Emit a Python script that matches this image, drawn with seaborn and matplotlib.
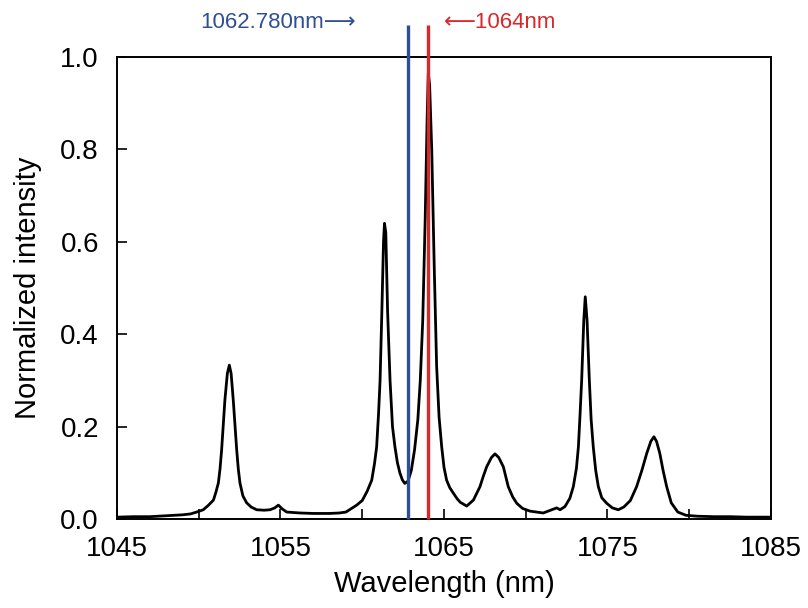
import numpy as np
import pandas as pd
import matplotlib
matplotlib.use("Agg")
import matplotlib.pyplot as plt
import seaborn as sns

# Spectrum (wavelength in nm, normalized intensity)
wavelength = [
    1045.0, 1046.0, 1047.0, 1048.0, 1049.0, 1049.5, 1049.87, 1050.28, 1050.6, 1050.9,
    1051.05, 1051.2, 1051.3, 1051.4, 1051.5, 1051.6, 1051.75, 1051.87, 1051.98, 1052.11,
    1052.22, 1052.32, 1052.42, 1052.52, 1052.7, 1052.93, 1053.2, 1053.54, 1054.0, 1054.36,
    1054.65, 1054.87, 1055.1, 1055.38, 1056.2, 1057.0, 1058.0, 1058.6,
    1059.0, 1059.66, 1060.0, 1060.3, 1060.58, 1060.75, 1060.88, 1061.0,
    1061.09, 1061.2, 1061.3, 1061.36, 1061.44, 1061.55, 1061.7, 1061.85,
    1062.0, 1062.15, 1062.3, 1062.45, 1062.6, 1062.8, 1063.0, 1063.2, 1063.4, 1063.55,
    1063.7, 1063.85, 1063.97, 1064.04, 1064.12, 1064.25, 1064.4, 1064.55,
    1064.7, 1064.86, 1065.0, 1065.16, 1065.35, 1065.57, 1065.8, 1066.0, 1066.39, 1066.8, 1067.2,
    1067.4, 1067.61, 1067.9, 1068.12, 1068.35, 1068.63, 1068.93, 1069.2, 1069.45, 1069.8, 1070.26,
    1071.07, 1071.89, 1072.1, 1072.4, 1072.7, 1072.91, 1073.1, 1073.22,
    1073.32, 1073.42, 1073.55, 1073.64, 1073.75, 1073.89, 1074.0, 1074.13, 1074.28, 1074.44,
    1074.65, 1074.95, 1075.3, 1075.66, 1076.0, 1076.4, 1076.78, 1077.1, 1077.4, 1077.65,
    1077.84, 1078.0, 1078.2, 1078.4, 1078.62, 1078.9, 1079.3, 1079.8,
    1080.5, 1081.5, 1082.5, 1083.5, 1084.3, 1085.0,
]
intensity = [
    0.004, 0.005, 0.005, 0.007, 0.009, 0.011, 0.015, 0.020, 0.030, 0.041,
    0.058, 0.078, 0.108, 0.150, 0.205, 0.258, 0.315, 0.333, 0.315, 0.258,
    0.200, 0.150, 0.108, 0.078, 0.050, 0.035, 0.026, 0.020, 0.019, 0.020,
    0.024, 0.030, 0.022, 0.015, 0.013, 0.012, 0.012, 0.013,
    0.015, 0.030, 0.040, 0.060, 0.084, 0.120, 0.156, 0.230,
    0.300, 0.450, 0.600, 0.640, 0.620, 0.450, 0.300, 0.200,
    0.156, 0.122, 0.100, 0.085, 0.077, 0.082, 0.105, 0.150, 0.215, 0.300,
    0.430, 0.650, 0.870, 0.965, 0.940, 0.800, 0.550, 0.330,
    0.220, 0.156, 0.112, 0.084, 0.068, 0.056, 0.044, 0.036, 0.028, 0.041, 0.070,
    0.092, 0.113, 0.133, 0.141, 0.133, 0.113, 0.070, 0.048, 0.034, 0.023, 0.017,
    0.013, 0.024, 0.020, 0.027, 0.045, 0.070, 0.110, 0.156,
    0.225, 0.300, 0.430, 0.481, 0.430, 0.300, 0.215, 0.156, 0.105, 0.070,
    0.046, 0.034, 0.024, 0.020, 0.026, 0.040, 0.070, 0.105, 0.142, 0.168,
    0.178, 0.168, 0.142, 0.105, 0.070, 0.035, 0.015, 0.008,
    0.006, 0.005, 0.005, 0.004, 0.004, 0.004,
]

# marked wavelengths
line_wl = [1062.780, 1064.0]
line_colors = ["#2f4f95", "#d8282a"]
line_labels = ["1062.780nm\u27f6", "\u27f51064nm"]

df = pd.DataFrame({"Wavelength (nm)": wavelength, "Normalized intensity": intensity})

sns.set_style("ticks")
plt.rcParams["font.family"] = ["Liberation Sans", "DejaVu Sans"]

fig = plt.figure(figsize=(8.08, 6.08), dpi=100)
ax = fig.add_axes([0.1448, 0.1464, 0.8094, 0.7598])

sns.lineplot(data=df, x="Wavelength (nm)", y="Normalized intensity",
             color="black", linewidth=2.0, ax=ax)

# vertical markers run above the frame
for wl, c in zip(line_wl, line_colors):
    ax.vlines(wl, 0, 1.07, color=c, linewidth=2.4, clip_on=False, zorder=5)

ax.text(line_wl[0] - 3.2, 1.074, line_labels[0], color=line_colors[0],
        fontsize=16, ha="right", va="center",
        family=["Liberation Sans", "DejaVu Sans"])
ax.text(line_wl[1] + 1.0, 1.074, line_labels[1], color=line_colors[1],
        fontsize=16, ha="left", va="center",
        family=["Liberation Sans", "DejaVu Sans"])

ax.set_xlim(1045, 1085)
ax.set_ylim(0, 1.0)
ax.set_xticks(np.arange(1045, 1086, 10))
ax.set_xticks(np.arange(1050, 1081, 10), minor=True)
ax.set_yticks(np.arange(0, 1.01, 0.2))
ax.yaxis.set_major_formatter(matplotlib.ticker.FormatStrFormatter("%.1f"))

ax.tick_params(axis="both", which="both", direction="in", length=7,
               width=1.2, labelsize=20, colors="black")
ax.tick_params(axis="x", pad=12)
ax.tick_params(axis="y", pad=13)

for s in ax.spines.values():
    s.set_visible(True)
    s.set_linewidth(1.4)
    s.set_color("black")

ax.set_xlabel("Wavelength (nm)", fontsize=21, labelpad=6, color="black")
ax.set_ylabel("Normalized intensity", fontsize=21, labelpad=13, color="black")

fig.savefig("out.png", dpi=100, facecolor="white")
